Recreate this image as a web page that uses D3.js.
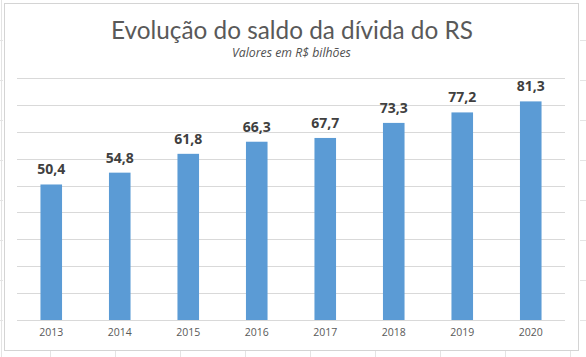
<!DOCTYPE html>
<html><head><meta charset="utf-8">
<script src="https://cdn.jsdelivr.net/npm/d3@7"></script>
<style>html,body{margin:0;padding:0;background:#fff;overflow:hidden}</style>
</head><body>
<svg id="c" width="586" height="357"></svg>
<script>
const years = ["2013","2014","2015","2016","2017","2018","2019","2020"];
const values = [50.4, 54.8, 61.8, 66.3, 67.7, 73.3, 77.2, 81.3];
const valueLabels = ["50,4","54,8","61,8","66,3","67,7","73,3","77,2","81,3"];
const gridTicks = [0,10,20,30,40,50,60,70,80,90];
const titleText = "Evolução do saldo da dívida do RS";
const subtitleText = "Valores em R$ bilhões";

const svg = d3.select("#c");
// spreadsheet cell lines in the background
const sheet = svg.append("g").attr("stroke","#e4e4e4").attr("stroke-width",1);
[40,80,120,160,200,240,280,320].forEach(y=>{
  sheet.append("line").attr("x1",0).attr("x2",3).attr("y1",y+0.5).attr("y2",y+0.5);
  sheet.append("line").attr("x1",580).attr("x2",586).attr("y1",y+0.5).attr("y2",y+0.5);
});
[50,115,180,245,310,375,440,505,570].forEach(x=>{
  sheet.append("line").attr("x1",x+0.5).attr("x2",x+0.5).attr("y1",351).attr("y2",357);
});
sheet.append("line").attr("x1",1.5).attr("x2",1.5).attr("y1",0).attr("y2",357);
// chart border
svg.append("rect").attr("x",4.5).attr("y",3.5).attr("width",574).attr("height",347)
  .attr("fill","#fff").attr("stroke","#d4d4d4");

const plot = {left:17, right:565, top:78, bottom:320};
const x = d3.scaleBand().domain(years).range([plot.left, plot.right]).paddingInner(0.685).paddingOuter(0.3425);
const y = d3.scaleLinear().domain([0,90]).range([plot.bottom, plot.top]);

// gridlines
svg.append("g").selectAll("line").data(gridTicks).join("line")
  .attr("x1",plot.left).attr("x2",plot.right)
  .attr("y1",d=>Math.round(y(d))+0.5).attr("y2",d=>Math.round(y(d))+0.5)
  .attr("stroke","#d9d9d9").attr("stroke-width",1);

// bars
svg.append("g").selectAll("rect").data(values).join("rect")
  .attr("x",(d,i)=>x(years[i])).attr("width",x.bandwidth())
  .attr("y",d=>y(d)).attr("height",d=>y(0)-y(d))
  .attr("fill","#5b9bd5");

// data labels
svg.append("g").selectAll("text").data(values).join("text")
  .attr("x",(d,i)=>x(years[i])+x.bandwidth()/2)
  .attr("y",d=>y(d)-10)
  .attr("text-anchor","middle")
  .attr("font-family","'Open Sans', sans-serif").attr("font-weight","bold")
  .attr("font-size",14).attr("fill","#404040")
  .text((d,i)=>valueLabels[i]);

// x axis labels
const xAxis = d3.axisBottom(x).tickSize(0).tickPadding(9);
const gx = svg.append("g").attr("transform",`translate(0,${plot.bottom})`).call(xAxis);
gx.select(".domain").remove();
gx.selectAll("text").attr("font-family","'Open Sans', sans-serif").attr("font-size",10.5).attr("fill","#595959");

// title
const t = svg.append("text").attr("x",292).attr("y",39).attr("text-anchor","middle")
  .attr("font-family","Lato, sans-serif")
  .attr("font-size",24).attr("fill","#595959").text(titleText);
const tw = t.node().getComputedTextLength();
t.attr("font-size", 24*362/tw);

const s = svg.append("text").attr("x",291.5).attr("y",57).attr("text-anchor","middle")
  .attr("font-family","'Open Sans', sans-serif").attr("font-style","italic")
  .attr("font-size",11).attr("fill","#505050").text(subtitleText);
const sw = s.node().getComputedTextLength();
s.attr("font-size", 11*119/sw);
</script>
</body></html>
